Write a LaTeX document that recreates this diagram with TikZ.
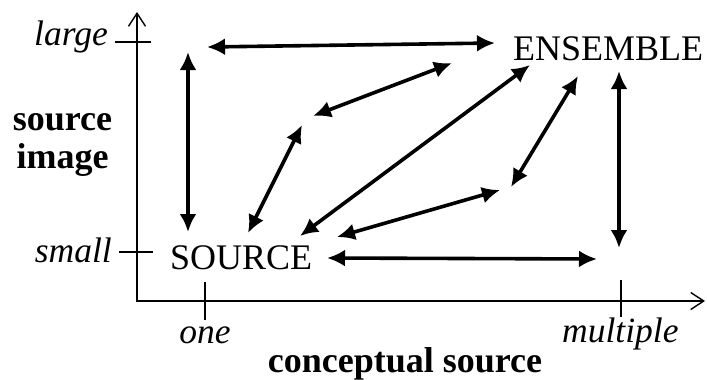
\documentclass[tikz,border=0pt]{standalone}
\usepackage{fontspec}
\setmainfont{Liberation Serif}
\usetikzlibrary{arrows.meta}
\begin{document}
\begin{tikzpicture}[x=1pt,y=-1pt,
  axis/.style={line width=1.6pt, line join=miter,
    {Straight Barb[length=13pt,width=17pt,line width=1.4pt]}-{Straight Barb[length=13pt,width=17pt,line width=1.4pt]}},
  tick/.style={line width=1.3pt},
  link/.style={line width=3.6pt,
    {Latex[length=18pt,width=17pt]}-{Latex[length=18pt,width=17pt]}},
  lbl/.style={inner sep=0pt, font=\fontsize{36}{40}\selectfont},
  axlbl/.style={lbl, font=\fontsize{36}{40}\selectfont\bfseries},
  ticklbl/.style={lbl, font=\fontsize{35.5}{40}\selectfont\itshape}]
\useasboundingbox (0,0) rectangle (707,380);

% axes
\coordinate (O) at (137,301);
\coordinate (ytip) at (137,12);
\coordinate (xtip) at (705,301);
\draw[axis] (ytip) -- (O) -- (xtip);

% ticks
\coordinate (tl1) at (115,42);  \coordinate (tl2) at (151,42);
\coordinate (ts1) at (119,252); \coordinate (ts2) at (153,252);
\coordinate (to1) at (205,282); \coordinate (to2) at (205,320);
\coordinate (tm1) at (621,280); \coordinate (tm2) at (621,317);
\draw[tick] (tl1) -- (tl2);
\draw[tick] (ts1) -- (ts2);
\draw[tick] (to1) -- (to2);
\draw[tick] (tm1) -- (tm2);

% tick and axis labels
\node[ticklbl, anchor=base east] (large) at (108,45) {large};
\node[ticklbl, anchor=base east] (small) at (112,262) {small};
\node[ticklbl, anchor=base] (one) at (205,343) {one};
\node[ticklbl, anchor=base west] (multiple) at (562,342) {multiple};
\node[axlbl, anchor=base] (ylbl1) at (62.5,130) {source};
\node[axlbl, anchor=base] (ylbl2) at (62.5,168) {image};
\node[axlbl, anchor=base] (xlbl) at (405,372) {conceptual source};

% states
\node[lbl, anchor=base west] (source) at (170,269) {SOURCE};
\node[lbl, anchor=base west] (ensemble) at (513,60) {ENSEMBLE};

% connector end points
\coordinate (a1s) at (207,47);  \coordinate (a1e) at (495,43);
\coordinate (a2s) at (188,52);  \coordinate (a2e) at (188,232);
\coordinate (a3s) at (619,71);  \coordinate (a3e) at (619,248);
\coordinate (a4s) at (327,258); \coordinate (a4e) at (597,259);
\coordinate (a5s) at (300,236); \coordinate (a5e) at (530,65);
\coordinate (a6s) at (248,233); \coordinate (a6e) at (302,125);
\coordinate (a7s) at (313,116); \coordinate (a7e) at (452,63);
\coordinate (a8s) at (337,237); \coordinate (a8e) at (500,190);
\coordinate (a9s) at (511,187); \coordinate (a9e) at (578,76);

% transitions
\draw[link] (a1s) -- (a1e);
\draw[link] (a2s) -- (a2e);
\draw[link] (a3s) -- (a3e);
\draw[link] (a4s) -- (a4e);
\draw[link] (a5s) -- (a5e);
\draw[link] (a6s) -- (a6e);
\draw[link] (a7s) -- (a7e);
\draw[link] (a8s) -- (a8e);
\draw[link] (a9s) -- (a9e);
\end{tikzpicture}
\end{document}
